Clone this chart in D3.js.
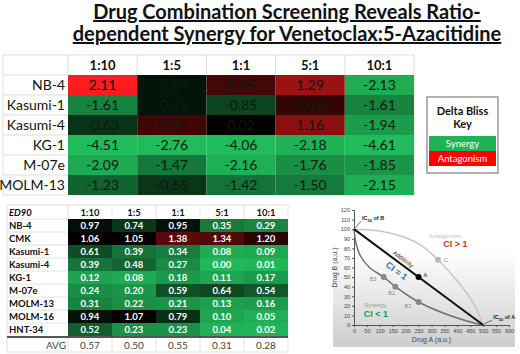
<!DOCTYPE html>
<html>
<head>
<meta charset="utf-8">
<script src="https://cdn.jsdelivr.net/npm/d3@7/dist/d3.min.js"></script>
<style>
  html, body { margin: 0; padding: 0; background: #fff; }
  svg { display: block; font-family: Lato, "Open Sans", sans-serif; }
</style>
</head>
<body>
<div id="chart"></div>
<script>
// Venetoclax:5-Azacitidine combination screen
const ratios = ["1:10", "1:5", "1:1", "5:1", "10:1"];

// delta bliss (top table)
const blissLines = ["NB-4", "Kasumi-1", "Kasumi-4", "KG-1", "M-07e", "MOLM-13"];
const blissValues = [
  [2.11, -0.24, 0.55, 1.29, -2.13],
  [-1.61, -0.25, -0.85, 0.42, -1.61],
  [-0.63, 0.54, 0.02, 1.16, -1.94],
  [-4.51, -2.76, -4.06, -2.18, -4.61],
  [-2.09, -1.47, -2.16, -1.76, -1.85],
  [-1.23, -0.65, -1.42, -1.50, -2.15]
];

// ED90 (bottom table)
const edLines = ["NB-4", "CMK", "Kasumi-1", "Kasumi-4", "KG-1", "M-07e", "MOLM-13", "MOLM-16", "HNT-34"];
const edValues = [
  [0.97, 0.74, 0.95, 0.35, 0.29],
  [1.06, 1.05, 1.38, 1.34, 1.20],
  [0.61, 0.39, 0.34, 0.08, 0.09],
  [0.39, 0.48, 0.27, 0.00, 0.01],
  [0.12, 0.08, 0.18, 0.11, 0.17],
  [0.24, 0.20, 0.59, 0.64, 0.54],
  [0.31, 0.22, 0.21, 0.13, 0.16],
  [0.94, 1.07, 0.79, 0.10, 0.05],
  [0.52, 0.23, 0.23, 0.04, 0.02]
];
const edAvg = [0.57, 0.50, 0.55, 0.31, 0.28];

// isobologram schematic
const additivity = [[0, 100], [500, 0]];
const antagonismCurve = [[0, 100], [100, 98], [200, 91], [260, 83], [325, 68], [400, 46], [450, 28], [480, 13], [500, 0]];
const synergyCurve = [[0, 100], [8, 85], [25, 72], [60, 60], [115, 50], [160, 40], [250, 24], [350, 12], [440, 4], [500, 0]];
const isoPoints = [
  { name: "A", x: 250, y: 50, color: "#000" },
  { name: "C", x: 325, y: 68, color: "#bbb" },
  { name: "B3", x: 115, y: 50, color: "#888" },
  { name: "B1", x: 160, y: 40, color: "#888" },
  { name: "B2", x: 250, y: 24, color: "#888" }
];

const width = 520, height = 354;
const svg = d3.select("#chart").append("svg")
  .attr("width", width)
  .attr("height", height);

// title
const titleLines = ["Drug Combination Screening Reveals Ratio-", "dependent Synergy for Venetoclax:5-Azacitidine"];
svg.selectAll("text.title")
  .data(titleLines)
  .join("text")
  .attr("class", "title")
  .attr("x", 287)
  .attr("y", (d, i) => 19 + i * 22)
  .attr("text-anchor", "middle")
  .style("font-size", "20px")
  .style("font-weight", "bold")
  .style("text-decoration", "underline")
  .attr("fill", "#111")
  .text(d => d);

// ---------- top table ----------
const tx = d3.scaleBand().domain(ratios).range([68, 414]);
const ty = d3.scaleBand().domain(blissLines).range([75, 195]);
const blissColor = d3.scaleLinear()
  .domain([-2.3, 0, 2.11])
  .range(["#20bb5a", "#000000", "#ff1c1c"])
  .clamp(true);

const topTbl = svg.append("g");
topTbl.append("rect")
  .attr("x", 3).attr("y", 55).attr("width", 411).attr("height", 140)
  .attr("fill", "#fff").attr("stroke", "#ddd");

blissValues.forEach((row, r) => {
  row.forEach((v, c) => {
    topTbl.append("rect")
      .attr("x", tx(ratios[c]))
      .attr("y", ty(blissLines[r]))
      .attr("width", tx.bandwidth())
      .attr("height", ty.bandwidth())
      .attr("fill", blissColor(v));
    topTbl.append("text")
      .attr("x", tx(ratios[c]) + tx.bandwidth() / 2)
      .attr("y", ty(blissLines[r]) + ty.bandwidth() / 2 + 5)
      .attr("text-anchor", "middle")
      .style("font-size", "14px")
      .attr("fill", "#0c1a10")
      .text(v.toFixed(2));
  });
});

// header + row labels
ratios.forEach(d => {
  topTbl.append("line")
    .attr("x1", tx(d)).attr("x2", tx(d))
    .attr("y1", 55).attr("y2", 75)
    .attr("stroke", "#ddd");
  topTbl.append("text")
    .attr("x", tx(d) + tx.bandwidth() / 2)
    .attr("y", 70)
    .attr("text-anchor", "middle")
    .style("font-size", "13px")
    .style("font-weight", "bold")
    .attr("fill", "#111")
    .text(d);
});
blissLines.forEach(d => {
  topTbl.append("line")
    .attr("x1", 3).attr("x2", 68)
    .attr("y1", ty(d)).attr("y2", ty(d))
    .attr("stroke", "#ddd");
  topTbl.append("text")
    .attr("x", 65)
    .attr("y", ty(d) + ty.bandwidth() / 2 + 5)
    .attr("text-anchor", "end")
    .style("font-size", "14px")
    .attr("fill", "#111")
    .text(d);
});

// legend
const key = svg.append("g");
key.append("rect")
  .attr("x", 427).attr("y", 97).attr("width", 71).attr("height", 76)
  .attr("fill", "#fff").attr("stroke", "#999").attr("stroke-width", 1.5);
key.selectAll("text.kt")
  .data(["Delta Bliss", "Key"])
  .join("text")
  .attr("x", 462.5)
  .attr("y", (d, i) => 115 + i * 13)
  .attr("text-anchor", "middle")
  .style("font-size", "11px")
  .style("font-weight", "bold")
  .attr("fill", "#111")
  .text(d => d);
[["Synergy", "#1fb356"], ["Antagonism", "#ff0000"]].forEach((k, i) => {
  key.append("rect")
    .attr("x", 429).attr("y", 136 + i * 15).attr("width", 67).attr("height", 15)
    .attr("fill", k[1]);
  key.append("text")
    .attr("x", 462.5).attr("y", 147 + i * 15)
    .attr("text-anchor", "middle")
    .style("font-size", "9.5px")
    .attr("fill", "#fff")
    .text(k[0]);
});

// ---------- bottom table ----------
const bx = d3.scaleBand().domain(ratios).range([68, 288]);
const by = d3.scaleBand().domain(edLines).range([219, 336]);
const edColor = d3.scaleLinear()
  .domain([0, 1.05, 1.5])
  .range(["#22b85a", "#000000", "#7c0c0c"])
  .clamp(true);

const bot = svg.append("g");
bot.append("rect")
  .attr("x", 7).attr("y", 205).attr("width", 281).attr("height", 147)
  .attr("fill", "#fff").attr("stroke", "#e2e2e2");

edValues.forEach((row, r) => {
  row.forEach((v, c) => {
    bot.append("rect")
      .attr("x", bx(ratios[c]))
      .attr("y", by(edLines[r]))
      .attr("width", bx.bandwidth())
      .attr("height", by.bandwidth())
      .attr("fill", edColor(v));
    bot.append("text")
      .attr("x", bx(ratios[c]) + bx.bandwidth() / 2)
      .attr("y", by(edLines[r]) + by.bandwidth() / 2 + 3.5)
      .attr("text-anchor", "middle")
      .style("font-size", "9.5px")
      .style("font-weight", "bold")
      .attr("fill", "#fff")
      .text(v.toFixed(2));
  });
});
edLines.forEach(d => {
  bot.append("line")
    .attr("x1", 7).attr("x2", 68)
    .attr("y1", by(d)).attr("y2", by(d))
    .attr("stroke", "#e2e2e2");
  bot.append("text")
    .attr("x", 9)
    .attr("y", by(d) + by.bandwidth() / 2 + 3.5)
    .style("font-size", "9.5px")
    .style("font-weight", "bold")
    .attr("fill", "#111")
    .text(d);
});
bot.append("text")
  .attr("x", 9).attr("y", 215.5)
  .style("font-size", "9.5px")
  .style("font-weight", "bold")
  .style("font-style", "italic")
  .attr("fill", "#111")
  .text("ED90");
ratios.forEach((d, i) => {
  bot.append("line")
    .attr("x1", bx(d)).attr("x2", bx(d))
    .attr("y1", 205).attr("y2", 219)
    .attr("stroke", "#e2e2e2");
  bot.append("line")
    .attr("x1", bx(d)).attr("x2", bx(d))
    .attr("y1", 338).attr("y2", 352)
    .attr("stroke", "#e2e2e2");
  bot.append("text")
    .attr("x", bx(d) + bx.bandwidth() / 2)
    .attr("y", 215.5)
    .attr("text-anchor", "middle")
    .style("font-size", "9.5px")
    .style("font-weight", "bold")
    .attr("fill", "#111")
    .text(d);
  bot.append("text")
    .attr("x", bx(d) + bx.bandwidth() / 2)
    .attr("y", 349)
    .attr("text-anchor", "middle")
    .style("font-size", "10px")
    .attr("fill", "#444")
    .text(edAvg[i].toFixed(2));
});
bot.append("line")
  .attr("x1", 7).attr("x2", 288)
  .attr("y1", 337).attr("y2", 337)
  .attr("stroke", "#555").attr("stroke-width", 2);
bot.append("text")
  .attr("x", 66).attr("y", 349)
  .attr("text-anchor", "end")
  .style("font-size", "10px")
  .attr("fill", "#444")
  .text("AVG");

// ---------- isobologram ----------
const iso = svg.append("g");
const grad = svg.append("defs").append("linearGradient")
  .attr("id", "bg").attr("x1", 0).attr("x2", 0).attr("y1", 0).attr("y2", 1);
grad.append("stop").attr("offset", "0.35").attr("stop-color", "#fff");
grad.append("stop").attr("offset", "1").attr("stop-color", "#cdcdcd");
iso.append("rect")
  .attr("x", 333).attr("y", 200).attr("width", 182).attr("height", 147)
  .attr("fill", "url(#bg)");

const ix = d3.scaleLinear().domain([0, 600]).range([354, 509]);
const iy = d3.scaleLinear().domain([0, 120]).range([325, 210]);

const xAxis = iso.append("g")
  .attr("transform", `translate(0,${iy(0)})`)
  .call(d3.axisBottom(ix).tickValues(d3.range(0, 601, 50)).tickSize(2).tickPadding(2));
const yAxis = iso.append("g")
  .attr("transform", `translate(${ix(0)},0)`)
  .call(d3.axisLeft(iy).tickValues(d3.range(0, 121, 10)).tickSize(2).tickPadding(2));
[xAxis, yAxis].forEach(a => {
  a.selectAll("path, line").attr("stroke", "#555");
  a.selectAll("text").attr("fill", "#444").style("font-size", "5.5px").style("font-family", "Liberation Sans, sans-serif");
});

iso.append("text")
  .attr("x", ix(300)).attr("y", 342)
  .attr("text-anchor", "middle")
  .style("font-size", "7px")
  .style("font-family", "Liberation Sans, sans-serif")
  .attr("fill", "#444")
  .text("Drug A (a.u.)");
iso.append("text")
  .attr("transform", `translate(337,${iy(60)}) rotate(-90)`)
  .attr("text-anchor", "middle")
  .style("font-size", "7px")
  .style("font-family", "Liberation Sans, sans-serif")
  .attr("fill", "#444")
  .text("Drug B (a.u.)");

const line = d3.line().x(d => ix(d[0])).y(d => iy(d[1]));
const curve = d3.line().x(d => ix(d[0])).y(d => iy(d[1])).curve(d3.curveCatmullRom);
iso.append("path").attr("d", curve(antagonismCurve))
  .attr("fill", "none").attr("stroke", "#c6c6c6").attr("stroke-width", 1.5);
iso.append("path").attr("d", curve(synergyCurve))
  .attr("fill", "none").attr("stroke", "#6e6e6e").attr("stroke-width", 1.5);
iso.append("path").attr("d", line(additivity))
  .attr("fill", "none").attr("stroke", "#111").attr("stroke-width", 2);

iso.selectAll("circle.pt")
  .data(isoPoints)
  .join("circle")
  .attr("class", "pt")
  .attr("cx", d => ix(d.x))
  .attr("cy", d => iy(d.y))
  .attr("r", 3)
  .attr("fill", d => d.color);

const ptLabel = { A: [5, 0], C: [6, 2], B3: [-14, 4], B1: [-7, 8], B2: [-14, 6] };
iso.selectAll("text.pl")
  .data(isoPoints)
  .join("text")
  .attr("class", "pl")
  .attr("x", d => ix(d.x) + ptLabel[d.name][0])
  .attr("y", d => iy(d.y) + ptLabel[d.name][1])
  .style("font-size", "5.5px")
  .style("font-family", "Liberation Sans, sans-serif")
  .attr("fill", d => d.name === "A" ? "#111" : "#888")
  .text(d => d.name);

const slope = Math.atan2(iy(0) - iy(100), ix(500) - ix(0)) * 180 / Math.PI;
const notes = [
  { t: "Antagonism", x: 352, y: 91, size: 6, color: "#c0c0c0", rot: 0, bold: false },
  { t: "CI > 1", x: 392, y: 81, size: 9, color: "#c0392b", rot: 0, bold: true },
  { t: "Additivity", x: 186, y: 67, size: 6, color: "#222", rot: slope, bold: false },
  { t: "CI = 1", x: 158, y: 54, size: 9, color: "#2f6fb4", rot: slope, bold: true },
  { t: "Synergy", x: 82, y: 19, size: 6, color: "#999", rot: 0, bold: false },
  { t: "CI < 1", x: 85, y: 8, size: 9, color: "#1f9a55", rot: 0, bold: true }
];
notes.forEach(n => {
  iso.append("text")
    .attr("transform", `translate(${ix(n.x)},${iy(n.y)}) rotate(${n.rot})`)
    .attr("text-anchor", "middle")
    .style("font-size", n.size + "px")
    .style("font-weight", n.bold ? "bold" : "normal")
    .style("font-family", "Liberation Sans, sans-serif")
    .attr("fill", n.color)
    .text(n.t);
});

// IC50 callouts
[["IC50 of B", 0, 100, 8, -11], ["IC50 of A", 500, 0, 10, -8]].forEach(c => {
  const px = ix(c[1]), py = iy(c[2]);
  iso.append("line")
    .attr("x1", px + 1).attr("y1", py - 1)
    .attr("x2", px + c[3] - 1).attr("y2", py + c[4] + 3)
    .attr("stroke", "#333").attr("stroke-width", 0.7);
  const t = iso.append("text")
    .attr("x", px + c[3]).attr("y", py + c[4] + 2)
    .style("font-size", "5.5px")
    .style("font-weight", "bold")
    .style("font-family", "Liberation Sans, sans-serif")
    .attr("fill", "#222");
  t.append("tspan").text("IC");
  t.append("tspan").attr("dy", 1.5).style("font-size", "4px").text("50");
  t.append("tspan").attr("dy", -1.5).text(c[0].slice(4));
});
</script>
</body>
</html>
